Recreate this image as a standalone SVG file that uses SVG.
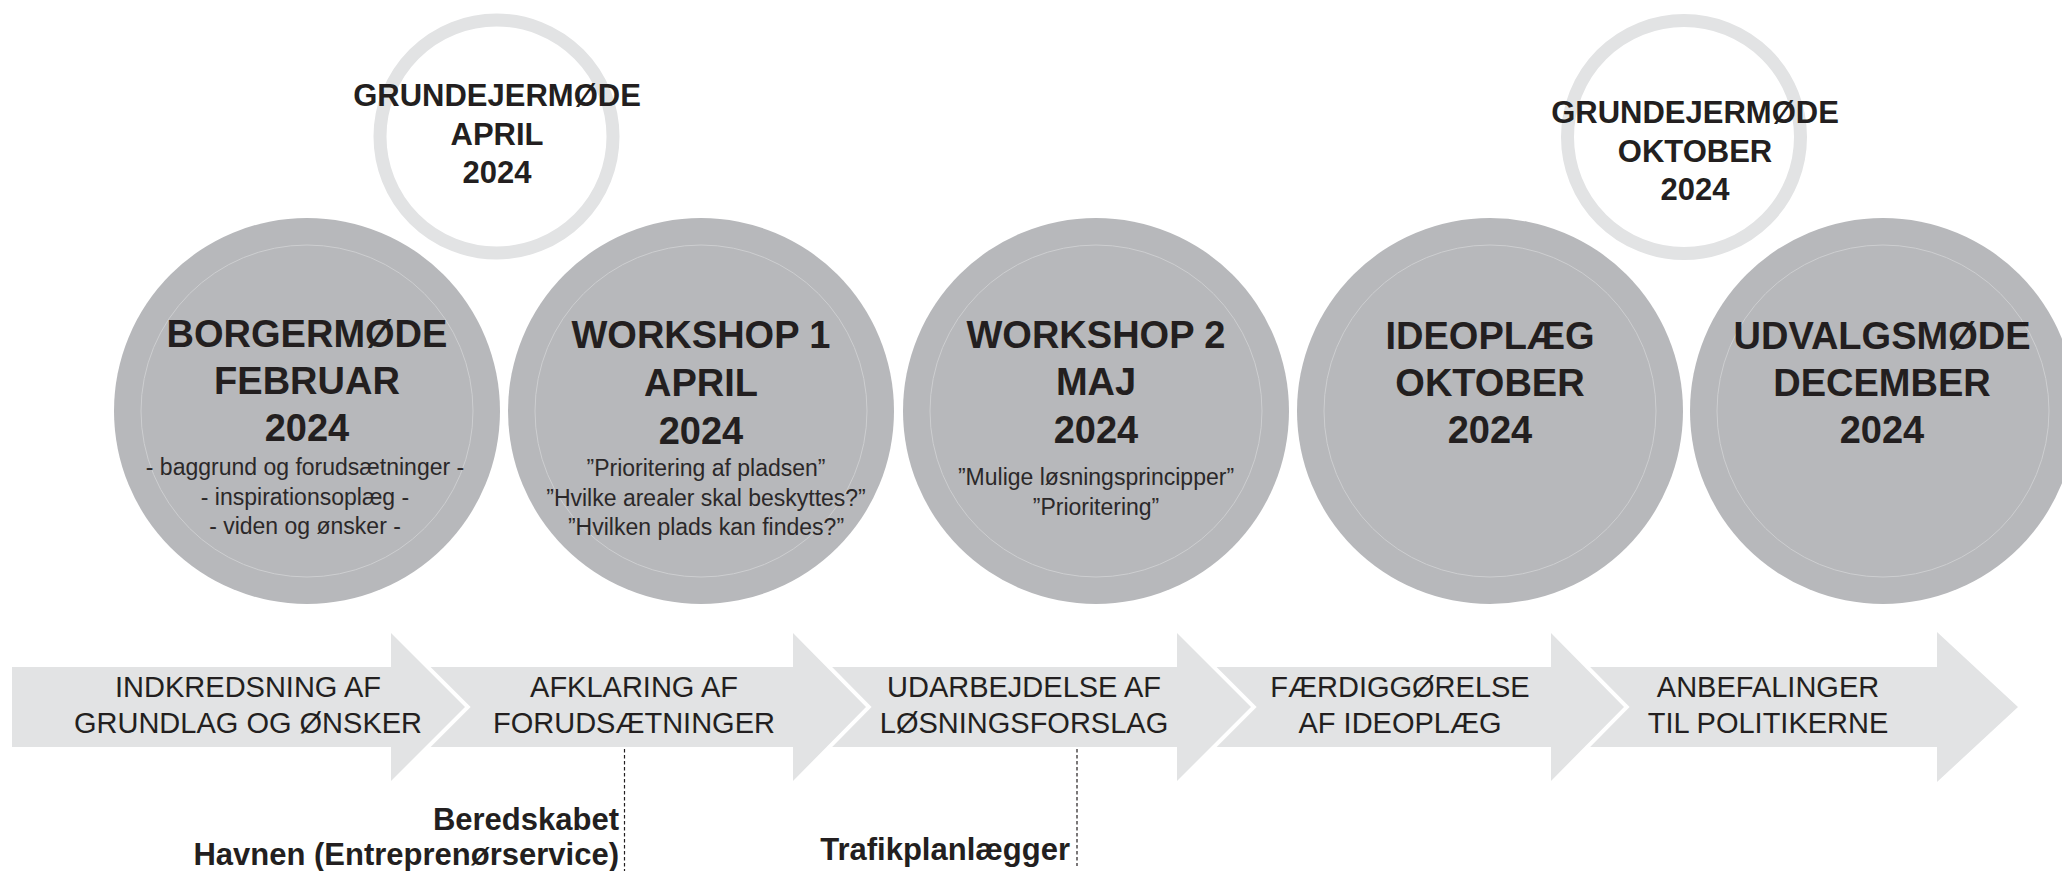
<svg xmlns="http://www.w3.org/2000/svg" width="2062" height="871" viewBox="0 0 2062 871">
<style>
.t{font-family:"Liberation Sans",Arial,Helvetica,sans-serif;fill:#231f20}
.title{font-weight:bold;font-size:38px;text-anchor:middle}
.sub{font-size:23px;text-anchor:middle;fill:#2b2829}
.ring{font-weight:bold;font-size:31px;text-anchor:middle}
.step{font-size:29px;text-anchor:middle}
.who{font-weight:bold;font-size:31px;text-anchor:end}
.big{fill:#b7b8bb}
.inner{fill:none;stroke:#cdced0;stroke-width:1}
.ringc{fill:none;stroke:#e2e3e4;stroke-width:13}
.arrow{fill:#e2e3e4}
.gap{fill:none;stroke:#ffffff;stroke-width:8;stroke-linejoin:miter;stroke-miterlimit:10}
.dash{fill:none;stroke:#231f20;stroke-width:1.2;stroke-dasharray:3.5 2.5}
</style>
<rect x="0" y="0" width="2062" height="871" fill="#ffffff"/>

<g id="grundejermode-april">
<circle class="ringc" cx="496.5" cy="136.5" r="116.5"/>
<text class="t ring" x="497" y="106">GRUNDEJERMØDE</text>
<text class="t ring" x="497" y="145">APRIL</text>
<text class="t ring" x="497" y="183">2024</text>
</g>
<g id="grundejermode-oktober">
<circle class="ringc" cx="1684" cy="137" r="116.5"/>
<text class="t ring" x="1695" y="123">GRUNDEJERMØDE</text>
<text class="t ring" x="1695" y="162">OKTOBER</text>
<text class="t ring" x="1695" y="200">2024</text>
</g>

<g id="borgermode">
<circle class="big" cx="307" cy="411" r="193"/>
<circle class="inner" cx="307" cy="411" r="166"/>
<text class="t title" x="307" y="347">BORGERMØDE</text>
<text class="t title" x="307" y="394">FEBRUAR</text>
<text class="t title" x="307" y="441">2024</text>
<text class="t sub" x="305" y="475">- baggrund og forudsætninger -</text>
<text class="t sub" x="305" y="505">- inspirationsoplæg -</text>
<text class="t sub" x="305" y="534">- viden og ønsker -</text>
</g>
<g id="workshop1">
<circle class="big" cx="701" cy="411" r="193"/>
<circle class="inner" cx="701" cy="411" r="166"/>
<text class="t title" x="701" y="348">WORKSHOP 1</text>
<text class="t title" x="701" y="396">APRIL</text>
<text class="t title" x="701" y="444">2024</text>
<text class="t sub" x="706" y="476">”Prioritering af pladsen”</text>
<text class="t sub" x="706" y="506">”Hvilke arealer skal beskyttes?”</text>
<text class="t sub" x="706" y="535">”Hvilken plads kan findes?”</text>
</g>
<g id="workshop2">
<circle class="big" cx="1096" cy="411" r="193"/>
<circle class="inner" cx="1096" cy="411" r="166"/>
<text class="t title" x="1096" y="348">WORKSHOP 2</text>
<text class="t title" x="1096" y="395">MAJ</text>
<text class="t title" x="1096" y="443">2024</text>
<text class="t sub" x="1096" y="485">”Mulige løsningsprincipper”</text>
<text class="t sub" x="1096" y="515">”Prioritering”</text>
</g>
<g id="ideoplaeg">
<circle class="big" cx="1490" cy="411" r="193"/>
<circle class="inner" cx="1490" cy="411" r="166"/>
<text class="t title" x="1490" y="349">IDEOPLÆG</text>
<text class="t title" x="1490" y="396">OKTOBER</text>
<text class="t title" x="1490" y="443">2024</text>
</g>
<g id="udvalgsmode">
<circle class="big" cx="1883" cy="411" r="193"/>
<circle class="inner" cx="1883" cy="411" r="166"/>
<text class="t title" x="1882" y="349">UDVALGSMØDE</text>
<text class="t title" x="1882" y="396">DECEMBER</text>
<text class="t title" x="1882" y="443">2024</text>
</g>

<g id="step-5">
<polygon class="arrow" points="1551,667 1937,667 1937,632 2018,707 1937,782 1937,747 1551,747"/>
<text class="t step" x="1768" y="697">ANBEFALINGER</text>
<text class="t step" x="1768" y="733">TIL POLITIKERNE</text>
</g>
<g id="step-4">
<polyline class="gap" points="1551,633 1624,707 1551,781"/>
<polygon class="arrow" points="1177,667 1551,667 1551,633 1624,707 1551,781 1551,747 1177,747"/>
<text class="t step" x="1400" y="697">FÆRDIGGØRELSE</text>
<text class="t step" x="1400" y="733">AF IDEOPLÆG</text>
</g>
<g id="step-3">
<polyline class="gap" points="1177,633 1251,707 1177,781"/>
<polygon class="arrow" points="793,667 1177,667 1177,633 1251,707 1177,781 1177,747 793,747"/>
<text class="t step" x="1024" y="697">UDARBEJDELSE AF</text>
<text class="t step" x="1024" y="733">LØSNINGSFORSLAG</text>
</g>
<g id="step-2">
<polyline class="gap" points="793,633 866,707 793,781"/>
<polygon class="arrow" points="391,667 793,667 793,633 866,707 793,781 793,747 391,747"/>
<text class="t step" x="634" y="697">AFKLARING AF</text>
<text class="t step" x="634" y="733">FORUDSÆTNINGER</text>
</g>
<g id="step-1">
<polyline class="gap" points="391,633 465,707 391,781"/>
<polygon class="arrow" points="12,667 391,667 391,633 465,707 391,781 391,747 12,747"/>
<text class="t step" x="248" y="697">INDKREDSNING AF</text>
<text class="t step" x="248" y="733">GRUNDLAG OG ØNSKER</text>
</g>

<g id="connectors">
<line class="dash" x1="624.5" y1="749" x2="624.5" y2="871"/>
<line class="dash" x1="1077" y1="749" x2="1077" y2="866"/>
</g>

<g id="participants-workshop1">
<text class="t who" x="619" y="830">Beredskabet</text>
<text class="t who" x="619" y="865">Havnen (Entreprenørservice)</text>
</g>
<g id="participants-workshop2">
<text class="t who" x="1070" y="860">Trafikplanlægger</text>
</g>
</svg>
